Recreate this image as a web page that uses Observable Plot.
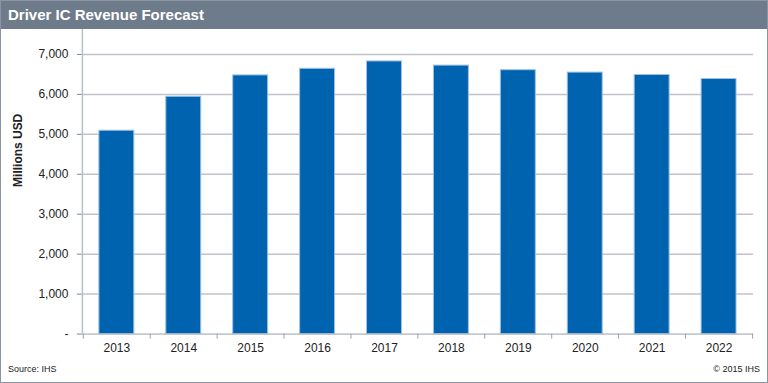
<!DOCTYPE html>
<html>
<head>
<meta charset="utf-8">
<script src="https://cdn.jsdelivr.net/npm/d3@7"></script>
<script src="https://cdn.jsdelivr.net/npm/@observablehq/plot@0.6"></script>
<style>
  html, body { margin: 0; padding: 0; background: #fff; }
  #frame { position: relative; width: 768px; height: 383px; box-sizing: border-box; border: 1px solid #8c96a2; overflow: hidden; font-family: "Liberation Sans", Arial, sans-serif; }
  #header { position: absolute; left: 0; top: 0; width: 100%; height: 28px; background: #6e7b8b; color: #fff; font-weight: bold; font-size: 15px; line-height: 28px; padding-left: 7px; box-sizing: border-box; z-index: 2; }
  #chart { position: absolute; left: -1px; top: -1px; }
  .note { position: absolute; font-size: 9px; color: #222; z-index: 2; }
</style>
</head>
<body>
<div id="frame">
  <div id="header">Driver IC Revenue Forecast</div>
  <div id="chart"></div>
  <div class="note" style="left:7px; top:363px;">Source: IHS</div>
  <div class="note" style="right:7px; top:363px;">© 2015 IHS</div>
</div>
<script>
const years = ["2013","2014","2015","2016","2017","2018","2019","2020","2021","2022"];
const revenue = [5090, 5940, 6475, 6640, 6825, 6720, 6605, 6545, 6485, 6385];
const yTicks = [0, 1000, 2000, 3000, 4000, 5000, 6000, 7000];
const yLabel = "Millions USD";

const data = years.map((y, i) => ({year: y, value: revenue[i]}));
const step = 672 / 10;

const chart = Plot.plot({
  width: 768,
  height: 383,
  marginLeft: 82,
  marginRight: 14,
  marginTop: 30,
  marginBottom: 49,
  style: {fontFamily: "Liberation Sans, Arial, sans-serif", fontSize: "12px", color: "#222", background: "transparent"},
  x: {domain: years, paddingInner: 0.48, paddingOuter: 0.24, label: null},
  y: {domain: [0, 7600], label: null},
  marks: [
    Plot.ruleY(yTicks.filter(d => d > 0), {stroke: "#bfc3ca", strokeWidth: 1.5}),
    Plot.barY(data, {x: "year", y: "value", fill: "#0063b0", stroke: "#9fc1e4", strokeWidth: 1}),
    Plot.ruleY([0], {stroke: "#9aa2ad", strokeWidth: 1}),
    Plot.ruleX(years, {x: d => d, dx: -step / 2, y1: 0, y2: 0, insetBottom: -5, stroke: "#9aa2ad"}),
    Plot.ruleX([years[years.length - 1]], {x: d => d, dx: step / 2, y1: 0, y2: 0, insetBottom: -5, stroke: "#9aa2ad"}),
    Plot.axisX({tickSize: 0, tickPadding: 9, fontSize: 12, fill: "#222"}),
    Plot.axisY(yTicks, {anchor: "left", tickSize: 5, tickPadding: 9, stroke: "#7d8794", fill: "#222", fontSize: 12,
      tickFormat: d => d === 0 ? "-" : d3.format(",")(d), label: null}),
    Plot.text([yLabel], {frameAnchor: "left", textAnchor: "middle", dx: -64, dy: -32, rotate: -90, fontWeight: "bold", fontSize: 12, fill: "#222"})
  ]
});
// left axis line spanning full height
const svg = d3.select(chart);
svg.append("line").attr("x1", 82.5).attr("x2", 82.5).attr("y1", 28).attr("y2", 334).attr("stroke", "#b9bfc7").attr("stroke-width", 1.5);
document.getElementById("chart").appendChild(chart);
</script>
</body>
</html>
